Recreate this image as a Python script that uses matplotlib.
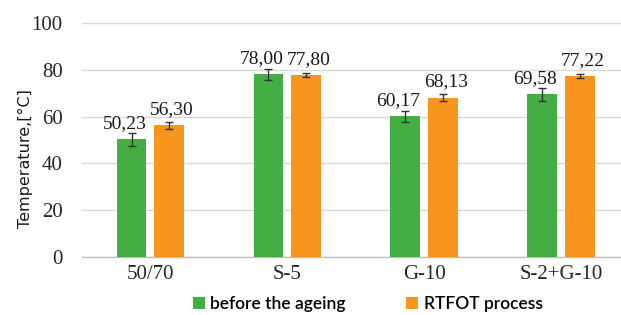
"""
Softening point before / after RTFOT ageing – grouped bars with error bars.
"""
import matplotlib
matplotlib.use("Agg")
import matplotlib.pyplot as plt
import numpy as np

categories = ["50/70", "S-5", "G-10", "S-2+G-10"]
before_vals = [50.23, 78.00, 60.17, 69.58]
before_err = [2.8, 2.5, 2.3, 2.8]
rtfot_vals = [56.30, 77.80, 68.13, 77.22]
rtfot_err = [1.4, 1.0, 1.4, 0.9]
series_labels = ["before the ageing", "RTFOT process"]
y_ticks = [0, 20, 40, 60, 80, 100]

GREEN = "#44ad44"
ORANGE = "#f7951d"
SERIF = "Liberation Serif"

fig = plt.figure(figsize=(6.21, 3.15), dpi=100)
ax = fig.add_axes([0.132, 0.184, 0.882, 0.743])

x = np.arange(len(categories))
w = 0.218
off = 0.138

err_kw = dict(ecolor="#333333", elinewidth=1.0, capsize=3, capthick=1.0)
b1 = ax.bar(x - off, before_vals, w, color=GREEN, yerr=before_err,
            error_kw=err_kw, label=series_labels[0], zorder=3)
b2 = ax.bar(x + off, rtfot_vals, w, color=ORANGE, yerr=rtfot_err,
            error_kw=err_kw, label=series_labels[1], zorder=3)

for xi, v in zip(x - off, before_vals):
    ax.annotate(f"{v:.2f}".replace(".", ","), (xi, v), xytext=(-5, 8),
                textcoords="offset points", ha="center", va="baseline",
                fontsize=14, family=SERIF, color="#1a1a1a")
for xi, v in zip(x + off, rtfot_vals):
    ax.annotate(f"{v:.2f}".replace(".", ","), (xi, v), xytext=(2, 8),
                textcoords="offset points", ha="center", va="baseline",
                fontsize=14, family=SERIF, color="#1a1a1a")

ax.set_xlim(-0.5, 3.5)
ax.set_ylim(0, 100)
ax.set_yticks(y_ticks)
ax.set_xticks(x)
ax.set_xticklabels(categories)
for lab in ax.get_xticklabels() + ax.get_yticklabels():
    lab.set_family(SERIF)
    lab.set_fontsize(15)
    lab.set_color("#262626")
ax.tick_params(axis="both", length=0)
ax.tick_params(axis="x", pad=6)
ax.tick_params(axis="y", pad=14)

ax.grid(axis="y", color="#d9d9d9", linewidth=1.0, zorder=0)
for side in ["top", "right", "left"]:
    ax.spines[side].set_visible(False)
ax.spines["bottom"].set_color("#bfbfbf")
ax.spines["bottom"].set_linewidth(1.0)

ax.set_ylabel("Temperature,[°C]", fontsize=11.5, family="DejaVu Sans",
              color="#1a1a1a")
ax.yaxis.set_label_coords(-0.09, 0.42)

fig.legend(handles=[b1, b2], labels=series_labels, loc="center",
           bbox_to_anchor=(0.592, 0.035), ncol=2, frameon=False,
           handlelength=0.7, handleheight=0.7, handletextpad=0.3,
           columnspacing=3.5, prop={"family": "Lato", "size": 12.5,
                                    "weight": "semibold"})

fig.savefig("out.png", dpi=100)
